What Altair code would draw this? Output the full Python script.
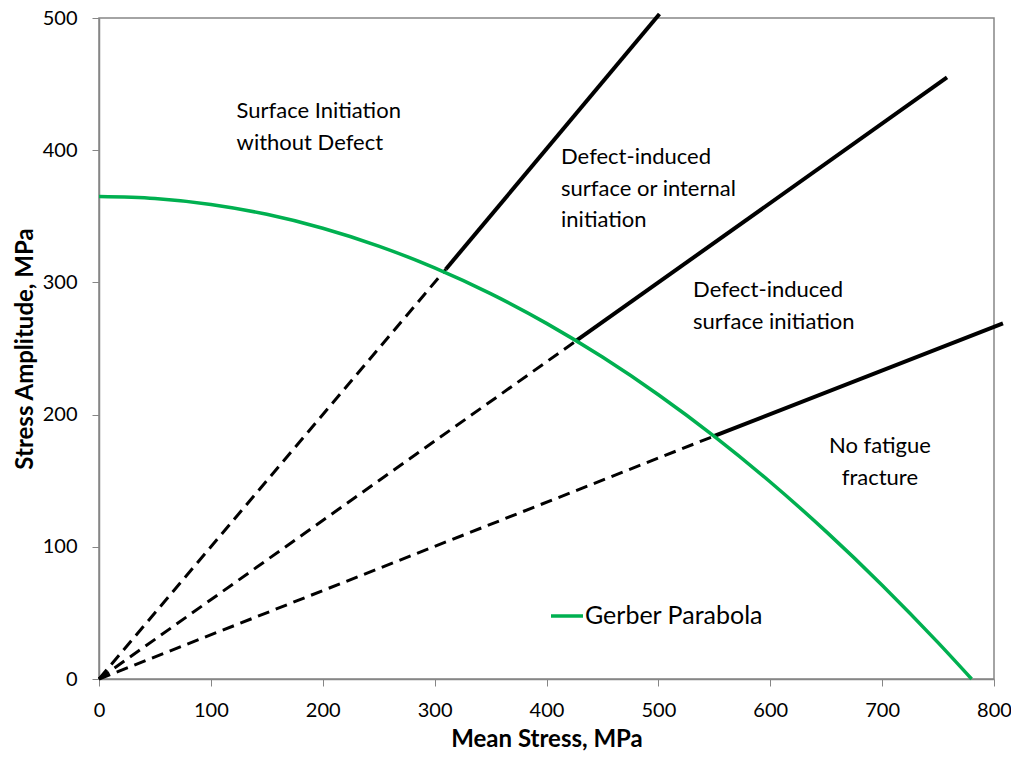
import altair as alt
import pandas as pd

# Gerber parabola
gerber_x = [0, 50, 100, 150, 200, 250, 300, 350, 400, 450, 500, 550, 600, 650, 700, 750, 780]
gerber_y = [365, 363.5, 359, 351.5, 341, 327.5, 311, 291.5, 269, 243.5, 215, 183.5, 149, 111.5, 71, 27.5, 0]

# radial lines: dashed from origin to the parabola, solid beyond
ray_names = ["r1", "r2", "r3"]
ray_start_x = [310, 426, 549]
ray_start_y = [310, 255.5, 183.5]
ray_end_x = [501, 758, 808]
ray_end_y = [503, 455, 269]

# annotation lines
label_text = ["Surface Initiation", "without Defect",
              "Defect-induced", "surface or internal", "initiation",
              "Defect-induced", "surface initiation",
              "No fatigue", "fracture"]
label_x = [123, 123, 413, 413, 413, 531, 531, 698, 698]
label_y = [430, 405.5, 395, 371, 347.5, 294, 270, 176, 152]
label_align = ["left", "left", "left", "left", "left", "left", "left", "center", "center"]

FONT = "Lato"

dash_rows, solid_rows = [], []
for n, sx, sy, ex, ey in zip(ray_names, ray_start_x, ray_start_y, ray_end_x, ray_end_y):
    dash_rows += [{"ray": n, "x": 0, "y": 0, "o": 0}, {"ray": n, "x": sx, "y": sy, "o": 1}]
    solid_rows += [{"ray": n, "x": sx, "y": sy, "o": 0}, {"ray": n, "x": ex, "y": ey, "o": 1}]
dash_df = pd.DataFrame(dash_rows)
solid_df = pd.DataFrame(solid_rows)
gerber_df = pd.DataFrame({"x": gerber_x, "y": gerber_y, "series": "Gerber Parabola"})
text_df = pd.DataFrame({"x": label_x, "y": label_y, "t": label_text, "a": label_align})

xs = alt.Scale(domain=[0, 800], nice=False)
ys = alt.Scale(domain=[0, 500], nice=False)

x_axis = alt.Axis(title="Mean Stress, MPa", values=list(range(0, 801, 100)), grid=False,
                  domainColor="#868686", tickColor="#868686", tickSize=7, domainWidth=1.5,
                  labelFont=FONT, labelFontSize=20, labelColor="black", labelPadding=14,
                  labelFlush=False,
                  titleFont=FONT, titleFontSize=24, titleFontWeight="bold", titleColor="black",
                  titlePadding=7)
y_axis = alt.Axis(title="Stress Amplitude, MPa", values=list(range(0, 501, 100)), grid=False,
                  domainColor="#868686", tickColor="#868686", tickSize=7, domainWidth=1.5,
                  labelFont=FONT, labelFontSize=20, labelColor="black", labelPadding=15,
                  labelFlush=False,
                  titleFont=FONT, titleFontSize=24, titleFontWeight="bold", titleColor="black",
                  titlePadding=5)

dashed = alt.Chart(dash_df).mark_line(color="black", strokeWidth=3, strokeDash=[12, 7], clip=False).encode(
    x=alt.X("x:Q", scale=xs, axis=x_axis),
    y=alt.Y("y:Q", scale=ys, axis=y_axis),
    detail="ray:N", order="o:Q")

solid = alt.Chart(solid_df).mark_line(color="black", strokeWidth=4, clip=False).encode(
    x=alt.X("x:Q", scale=xs), y=alt.Y("y:Q", scale=ys), detail="ray:N", order="o:Q")

gerber = alt.Chart(gerber_df).mark_line(strokeWidth=3.5, interpolate="monotone", clip=False).encode(
    x=alt.X("x:Q", scale=xs), y=alt.Y("y:Q", scale=ys),
    color=alt.Color("series:N", scale=alt.Scale(domain=["Gerber Parabola"], range=["#00B050"]),
                    legend=alt.Legend(title=None, orient="none", legendX=450, legendY=580,
                                      padding=0, symbolType="stroke", symbolStrokeWidth=3.5,
                                      symbolSize=1024, labelLimit=0,
                                      labelFont=FONT, labelFontSize=25, labelColor="black",
                                      labelOffset=0)))

texts_left = alt.Chart(text_df[text_df["a"] == "left"]).mark_text(
    font=FONT, fontSize=22, color="black", baseline="middle", align="left").encode(
    x=alt.X("x:Q", scale=xs), y=alt.Y("y:Q", scale=ys), text="t:N")
texts_center = alt.Chart(text_df[text_df["a"] == "center"]).mark_text(
    font=FONT, fontSize=22, color="black", baseline="middle", align="center").encode(
    x=alt.X("x:Q", scale=xs), y=alt.Y("y:Q", scale=ys), text="t:N")

chart = alt.layer(dashed, solid, gerber, texts_left, texts_center).properties(
    width=895, height=661,
    autosize=alt.AutoSizeParams(type="none"),
    padding={"left": 91, "top": 10, "right": 17, "bottom": 73},
).configure_view(stroke="#868686", strokeWidth=1.5)

chart.save("out.html", embed_options={"renderer": "svg", "actions": False})
